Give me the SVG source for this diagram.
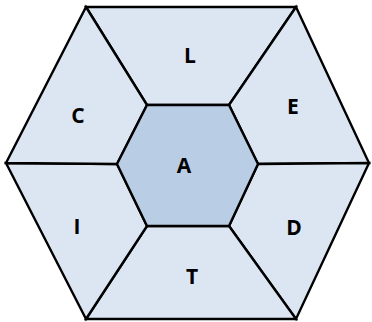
<svg xmlns="http://www.w3.org/2000/svg" width="372" height="322" viewBox="0 0 372 322">
<style>
.seg{fill:#dce6f2;stroke:#000;stroke-width:2.4;stroke-linejoin:miter}
.core{fill:#b9cde5;stroke:#000;stroke-width:2.4}
.lbl{font-family:"Open Sans","Liberation Sans",sans-serif;font-weight:bold;font-size:21px;fill:#000;text-anchor:middle;dominant-baseline:central}
</style>
<rect width="372" height="322" fill="#fff"/>
<g id="L"><polygon class="seg" points="86,7 296,7 229,105 147,105"/><text class="lbl" x="190" y="55">L</text></g>
<g id="E"><polygon class="seg" points="296,7 369,163 258,164 229,105"/><text class="lbl" x="293" y="106">E</text></g>
<g id="D"><polygon class="seg" points="369,163 296,319 229,226 258,164"/><text class="lbl" x="294" y="227">D</text></g>
<g id="T"><polygon class="seg" points="296,319 86,319 147,226 229,226"/><text class="lbl" x="192" y="276">T</text></g>
<g id="I"><polygon class="seg" points="86,319 6,163 117,164 147,226"/><text class="lbl" x="77" y="226">I</text></g>
<g id="C"><polygon class="seg" points="6,163 86,7 147,105 117,164"/><text class="lbl" x="78" y="115">C</text></g>
<g id="A"><polygon class="core" points="147,105 229,105 258,164 229,226 147,226 117,164"/><text class="lbl" x="184" y="165">A</text></g>
<g id="connectors"></g>
</svg>
